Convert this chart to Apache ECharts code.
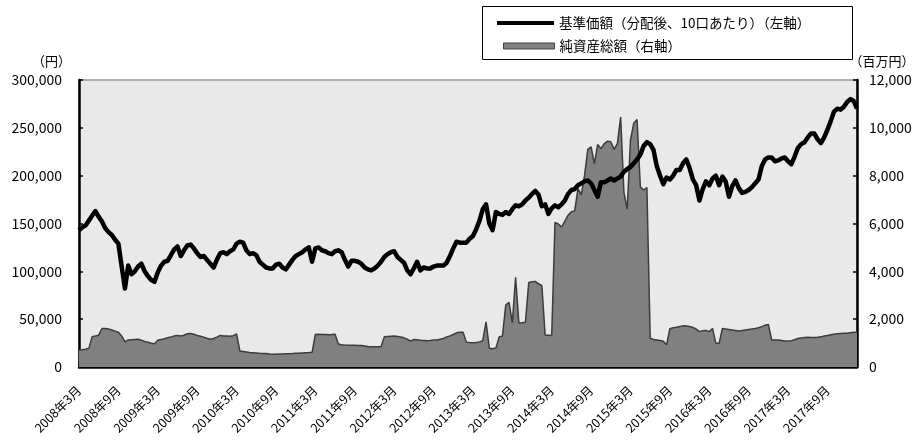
<!DOCTYPE html>
<html><head><meta charset="utf-8">
<script src="https://cdn.jsdelivr.net/npm/echarts@6/dist/echarts.min.js"></script>
<style>html,body{margin:0;padding:0;background:#fff}#c{width:922px;height:441px}</style>
</head><body><div id="c"></div>
<script>
const tickLabels = ['2008年3月','2008年9月','2009年3月','2009年9月','2010年3月','2010年9月','2011年3月','2011年9月','2012年3月','2012年9月','2013年3月','2013年9月','2014年3月','2014年9月','2015年3月','2015年9月','2016年3月','2016年9月','2017年3月','2017年9月'];
const seriesNames = ['基準価額（分配後、10口あたり）（左軸）','純資産総額（右軸）'];
// 基準価額 (円), semi-monthly from 2008/03/01
const navYen = [
143000,146000,148000,153000,158000,163000,157000,152000,145000,141000,
138000,133000,129000,105000,82000,106000,97000,100000,105000,108000,
100000,95000,91000,89000,99000,106000,110000,111000,117000,123000,
126000,116000,122000,127000,128000,124000,119000,115000,116000,112000,
108000,104000,112000,119000,120000,118000,121000,123000,129000,131000,
130000,122000,118000,119000,117000,110000,107000,104000,103000,103000,
107000,108000,104000,102000,107000,112000,116000,118000,120000,123000,
125000,110000,124000,125000,122000,121000,119000,118000,121000,122000,
120000,112000,105000,111000,111000,110000,108000,104000,102000,101000,
103000,106000,110000,115000,118000,120000,121000,115000,112000,109000,
101000,97000,103000,110000,101000,104000,103000,103000,105000,106000,
106000,106000,109000,116000,124000,131000,130000,130000,130000,134000,
137000,144000,153000,165000,170000,150000,143000,162000,160000,159000,
162000,160000,165000,169000,168000,170000,174000,177000,181000,184000,
180000,168000,170000,160000,166000,169000,167000,170000,174000,181000,
185000,186000,190000,192000,194000,195000,192000,185000,178000,193000,
193000,195000,197000,195000,197000,199000,204000,207000,209000,213000,
217000,222000,231000,235000,233000,227000,210000,200000,191000,
198000,196000,200000,206000,206000,213000,217000,208000,196000,190000,
174000,186000,194000,190000,197000,200000,190000,199000,194000,178000,
189000,195000,187000,182000,183000,185000,188000,192000,196000,210000,
217000,219000,219000,215000,216000,218000,219000,215000,212000,220000,
229000,233000,235000,240000,244000,244000,238000,234000,240000,248000,
257000,267000,270000,269000,272000,277000,280000,278000,270000
];
// 純資産総額 (百万円)
const aumMillion = [
710,720,740,780,1270,1300,1330,1610,1610,1590,
1550,1500,1450,1300,1050,1130,1140,1150,1160,1120,
1070,1040,990,970,1120,1150,1180,1220,1250,1300,
1320,1300,1330,1390,1400,1370,1320,1290,1250,1200,
1160,1190,1250,1320,1300,1300,1290,1310,1380,670,
650,630,610,600,590,575,565,560,540,530,
535,540,545,550,555,560,570,580,590,600,
605,615,1360,1365,1360,1355,1350,1355,1365,960,
930,915,910,910,905,900,895,880,860,850,
850,845,850,1260,1280,1290,1300,1280,1250,1220,
1160,1080,1150,1140,1120,1110,1100,1110,1130,1130,
1160,1190,1260,1300,1360,1430,1450,1450,1040,1020,
1010,1020,1050,1100,1890,780,760,790,1260,1300,
2590,2700,1840,3750,1840,1850,1870,3530,3560,3580,
3480,3400,1340,1330,1320,6040,5980,5850,6100,6350,
6490,6520,7460,7200,8000,9100,9200,8500,9300,9130,
9340,9440,9420,9100,9340,10450,7300,6600,9500,10200,
10350,7530,7400,7500,1200,1150,1130,1110,1080,
930,1600,1640,1660,1690,1720,1710,1690,1650,1590,
1480,1520,1530,1480,1610,990,990,1610,1590,1570,
1550,1530,1510,1530,1550,1570,1590,1610,1640,1690,
1750,1780,1130,1130,1130,1110,1090,1090,1100,1140,
1190,1210,1230,1240,1230,1230,1240,1260,1300,1320,
1350,1370,1390,1400,1410,1410,1430,1450,1450
];
const categories = [];
for (let i = 0; i < navYen.length; i++) {
  const m = 2 + Math.floor(i / 2);
  const y = 2008 + Math.floor(m / 12);
  const mo = m % 12 + 1;
  categories.push(y + '/' + String(mo).padStart(2, '0') + '/' + (i % 2 ? '16' : '01'));
}
const FONT = 'Noto Sans CJK JP';
const chart = echarts.init(document.getElementById('c'), null, {renderer: 'canvas'});
const isTick = (idx) => idx % 12 === 0;
chart.setOption({
  animation: false,
  backgroundColor: '#ffffff',
  textStyle: {fontFamily: FONT, color: '#000'},
  graphic: [{
    type: 'rect', z: 0, left: 482, top: 6,
    shape: {width: 370, height: 53},
    style: {fill: '#fff', stroke: '#000', lineWidth: 1}
  }],
  legend: [{
    data: [{name: seriesNames[0], icon: 'rect', itemStyle: {color: '#000', borderWidth: 0}}],
    left: 497, top: 15, padding: 0, itemWidth: 57, itemHeight: 4,
    textStyle: {fontFamily: FONT, fontSize: 13.5, color: '#000', lineHeight: 16},
    selectedMode: false
  }, {
    data: [{name: seriesNames[1], icon: 'rect', itemStyle: {color: '#808080', borderColor: '#404040', borderWidth: 1}}],
    left: 503, top: 38, padding: 0, itemWidth: 51, itemHeight: 6,
    textStyle: {fontFamily: FONT, fontSize: 13.5, color: '#000', lineHeight: 16},
    selectedMode: false
  }],
  grid: {left: 79, right: 65, top: 80, bottom: 74, show: true, backgroundColor: '#e9e9e9', borderColor: '#9a9a9a', borderWidth: 1.5},
  xAxis: {
    type: 'category', data: categories, boundaryGap: false,
    axisLine: {lineStyle: {color: '#000', width: 2.5}},
    axisTick: {inside: true, length: 5, interval: isTick, lineStyle: {color: '#000', width: 1.5}},
    axisLabel: {
      interval: isTick, rotate: 45, margin: 21,
      fontFamily: FONT, fontSize: 12.5, color: '#000',
      formatter: (v, idx) => tickLabels[idx / 12] || ''
    },
    splitLine: {show: false}
  },
  yAxis: [{
    type: 'value', min: 0, max: 300000, interval: 50000,
    name: '（円）', nameLocation: 'end', nameGap: 12,
    nameTextStyle: {fontFamily: FONT, fontSize: 13, color: '#000', padding: [0, 55, 0, 0]},
    axisLine: {show: true, lineStyle: {color: '#000', width: 2.5}},
    axisTick: {show: true, inside: true, length: 4, lineStyle: {color: '#000', width: 1.5}},
    axisLabel: {margin: 17, fontFamily: FONT, fontSize: 14, color: '#000',
      formatter: v => v.toLocaleString('en-US')},
    splitLine: {show: false}
  }, {
    type: 'value', min: 0, max: 12000, interval: 2000, position: 'right',
    name: '（百万円）', nameLocation: 'end', nameGap: 12,
    nameTextStyle: {fontFamily: FONT, fontSize: 13, color: '#000', padding: [0, 0, 0, 50]},
    axisLine: {show: true, lineStyle: {color: '#000', width: 2.5}},
    axisTick: {show: true, inside: true, length: 4, lineStyle: {color: '#000', width: 1.5}},
    axisLabel: {margin: 12, fontFamily: FONT, fontSize: 14, color: '#000',
      formatter: v => v.toLocaleString('en-US')},
    splitLine: {show: false}
  }],
  series: [{
    name: seriesNames[1], type: 'line', yAxisIndex: 1, data: aumMillion,
    symbol: 'none', z: 2,
    lineStyle: {color: '#3c3c3c', width: 1.5},
    itemStyle: {color: '#808080'},
    areaStyle: {color: '#808080', opacity: 1}
  }, {
    name: seriesNames[0], type: 'line', yAxisIndex: 0, data: navYen,
    symbol: 'none', z: 3,
    lineStyle: {color: '#000', width: 4.5, join: 'round'},
    itemStyle: {color: '#000'}
  }]
});
</script></body></html>
